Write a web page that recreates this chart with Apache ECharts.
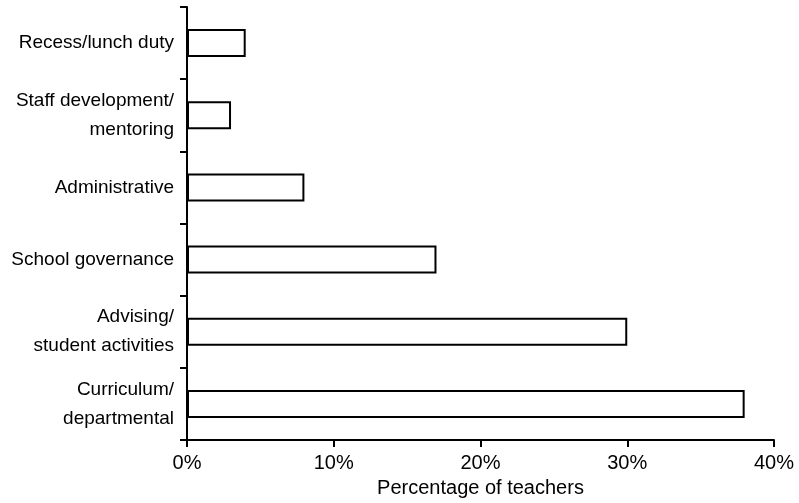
<!DOCTYPE html>
<html>
<head>
<meta charset="utf-8">
<script src="https://cdn.jsdelivr.net/npm/echarts@6/dist/echarts.min.js"></script>
<style>
html,body{margin:0;padding:0;background:#fff;}
#chart{width:799px;height:503px;}
</style>
</head>
<body>
<div id="chart"></div>
<script>
const categories = [
  "Recess/lunch duty",
  "Staff development/\nmentoring",
  "Administrative",
  "School governance",
  "Advising/\nstudent activities",
  "Curriculum/\ndepartmental"
];
const values = [4, 3, 8, 17, 30, 38];
const xTicks = [0, 10, 20, 30, 40];
const xTitle = "Percentage of teachers";

const FONT = '"Liberation Sans", Arial, Helvetica, sans-serif';
const chart = echarts.init(document.getElementById('chart'), null, {renderer: 'canvas'});
chart.setOption({
  backgroundColor: '#ffffff',
  animation: false,
  grid: {left: 187, right: 25, top: 7, bottom: 61, containLabel: false},
  xAxis: {
    type: 'value',
    min: xTicks[0],
    max: xTicks[xTicks.length - 1],
    interval: 10,
    name: xTitle,
    nameLocation: 'middle',
    nameGap: 38,
    nameTextStyle: {color: '#000', fontSize: 20, fontFamily: FONT},
    axisLine: {show: true, lineStyle: {color: '#000', width: 2}},
    axisTick: {show: true, inside: false, length: 7, lineStyle: {color: '#000', width: 2}},
    axisLabel: {color: '#000', fontSize: 20, fontFamily: FONT, margin: 13, formatter: v => v + '%'},
    splitLine: {show: false}
  },
  yAxis: {
    type: 'category',
    data: categories,
    inverse: true,
    axisLine: {show: true, lineStyle: {color: '#000', width: 2}},
    axisTick: {show: true, inside: false, length: 7, lineStyle: {color: '#000', width: 2}},
    axisLabel: {color: '#000', fontSize: 19, fontFamily: FONT, margin: 13, lineHeight: 29, align: 'right'},
    splitLine: {show: false}
  },
  series: [{
    type: 'bar',
    data: values,
    barWidth: 28,
    itemStyle: {color: '#ffffff', borderColor: '#000', borderWidth: 2}
  }]
});
</script>
</body>
</html>
